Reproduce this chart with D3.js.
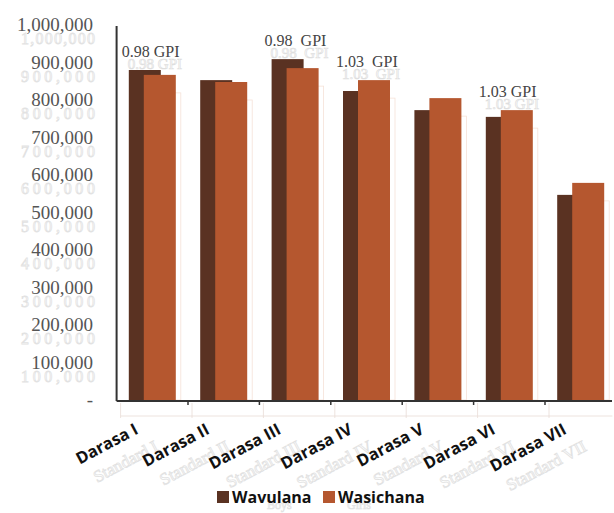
<!DOCTYPE html>
<html><head><meta charset="utf-8">
<script src="https://cdn.jsdelivr.net/npm/d3@7"></script>
<style>body{margin:0;background:#fff}svg{display:block}</style>
</head><body>
<script>
const categories = ["Darasa I","Darasa II","Darasa III","Darasa IV","Darasa V","Darasa VI","Darasa VII"];
const ghostCategories = ["Standard I","Standard II","Standard III","Standard IV","Standard V","Standard VI","Standard VII"];
const boys  = [880000, 853000, 909000, 824000, 773000, 755000, 547000];
const girls = [867000, 848000, 885000, 853000, 805000, 773000, 579000];
const gpiLabels = ["0.98 GPI", null, "0.98  GPI", "1.03  GPI", null, "1.03 GPI", null];
const yTicks = [0,100000,200000,300000,400000,500000,600000,700000,800000,900000,1000000];
const seriesNames = ["Wavulana","Wasichana"];
const ghostSeriesNames = ["Boys","Girls"];
const colors = ["#5a3222","#b5572f"];

const W=614,H=513;
const svg=d3.select("body").append("svg").attr("width",W).attr("height",H);
const x0=116.6, x1=616.4, yBase=400, yTop=25;
const x=d3.scaleBand().domain(categories).range([x0,x1]).padding(0);
const y=d3.scaleLinear().domain([0,1000000]).range([yBase,yTop]);
const bw=32, off=15;
const fmt=v=>v===0?"-":d3.format(",")(v);

// ghost y labels
svg.append("g").selectAll("text").data(yTicks.filter(d=>d>0)).join("text")
  .attr("x",95).attr("y",d=>y(d)+19).attr("text-anchor","end")
  .attr("font-family","Liberation Serif").attr("font-size",16).attr("textLength",74)
  .attr("fill","none").attr("stroke","#e2e2e2").attr("stroke-width",0.8)
  .text(d=>fmt(d));
// y labels
svg.append("g").selectAll("text").data(yTicks).join("text")
  .attr("x",93).attr("y",d=>y(d)+6).attr("text-anchor","end")
  .attr("font-family","Liberation Serif").attr("font-size",19).attr("fill","#555")
  .text(fmt);

// ghost axis frame below
const gg=svg.append("g").attr("stroke","#e8dcd6").attr("stroke-width",0.8).attr("fill","none");
gg.append("line").attr("x1",x0+4).attr("x2",x1-4).attr("y1",416).attr("y2",416);
gg.selectAll("line.v").data(categories).join("line").attr("class","v")
  .attr("x1",d=>x(d)+4).attr("x2",d=>x(d)+4).attr("y1",403).attr("y2",418);

// ghost bar outlines
const gb=svg.append("g").attr("fill","none").attr("stroke","#f6e2d8").attr("stroke-width",0.8);
categories.forEach((c,i)=>{
  const cx=x(c)+x.bandwidth()/2;
  gb.append("rect").attr("x",cx-bw/2-off/2+4).attr("y",y(boys[i])+18).attr("width",bw).attr("height",yBase-y(boys[i])-18);
  gb.append("rect").attr("x",cx-bw/2+off/2+5).attr("y",y(girls[i])+18).attr("width",bw).attr("height",yBase-y(girls[i])-18);
});

// bars
const g=svg.append("g");
g.selectAll("rect.b").data(categories).join("rect").attr("class","b")
  .attr("x",(d)=>x(d)+x.bandwidth()/2-bw/2-off/2).attr("width",bw)
  .attr("y",(d,i)=>y(boys[i])).attr("height",(d,i)=>yBase-y(boys[i])).attr("fill",colors[0]);
g.selectAll("rect.g").data(categories).join("rect").attr("class","g")
  .attr("x",(d)=>x(d)+x.bandwidth()/2-bw/2+off/2).attr("width",bw)
  .attr("y",(d,i)=>y(girls[i])).attr("height",(d,i)=>yBase-y(girls[i])).attr("fill",colors[1]);

// axes
svg.append("line").attr("x1",x0).attr("x2",x0).attr("y1",26).attr("y2",yBase+1).attr("stroke","#333").attr("stroke-width",2);
svg.append("line").attr("x1",x0).attr("x2",612).attr("y1",yBase+1).attr("y2",yBase+1).attr("stroke","#333").attr("stroke-width",2);
svg.append("g").selectAll("line").data(categories.slice(1)).join("line")
  .attr("x1",d=>x(d)).attr("x2",d=>x(d)).attr("y1",yBase+1).attr("y2",yBase+5).attr("stroke","#333").attr("stroke-width",1.5);

// GPI labels
const gpi=gpiLabels.map((t,i)=>({t,i})).filter(d=>d.t);
svg.append("g").selectAll("text").data(gpi).join("text")
  .attr("x",d=>x(categories[d.i])+x.bandwidth()/2-bw/2-off/2-1).attr("y",d=>y(Math.max(boys[d.i],girls[d.i]))-1)
  .attr("font-family","Liberation Serif").attr("font-size",15)
  .attr("fill","none").attr("stroke","#dedede").attr("stroke-width",0.7).attr("xml:space","preserve")
  .text(d=>d.t);
svg.append("g").selectAll("text").data(gpi).join("text")
  .attr("x",d=>x(categories[d.i])+x.bandwidth()/2-bw/2-off/2-7).attr("y",d=>y(Math.max(boys[d.i],girls[d.i]))-13)
  .attr("font-family","Liberation Serif").attr("font-size",16).attr("fill","#444").attr("xml:space","preserve")
  .text(d=>d.t);

// x labels
const xl=svg.append("g");
categories.forEach((c,i)=>{
  const cx=x(c)+x.bandwidth()/2;
  xl.append("text").attr("transform",`translate(${cx+7},${yBase+50}) rotate(-28)`)
    .attr("text-anchor","end").attr("font-family","Liberation Serif").attr("font-size",17)
    .attr("fill","none").attr("stroke","#e2e2e2").attr("stroke-width",0.8).text(ghostCategories[i]);
  xl.append("text").attr("transform",`translate(${cx-13},${yBase+33}) rotate(-28)`)
    .attr("text-anchor","end").attr("font-family","Open Sans").attr("font-weight","bold").attr("font-size",16.5)
    .attr("fill","#111").text(c);
});

// legend
const lg=svg.append("g");
const lx=[217,323];
const gx=[267,347];
seriesNames.forEach((s,i)=>{
  lg.append("text").attr("x",gx[i]).attr("y",509).attr("font-family","Liberation Serif")
    .attr("font-size",12).attr("fill","none").attr("stroke","#e2e2e2").attr("stroke-width",0.7).text(ghostSeriesNames[i]);
  lg.append("rect").attr("x",lx[i]).attr("y",491).attr("width",12).attr("height",12).attr("fill",colors[i]);
  lg.append("text").attr("x",lx[i]+15).attr("y",503).attr("font-family","Open Sans").attr("font-weight","bold")
    .attr("font-size",16).attr("fill","#111").text(s);
});
</script>
</body></html>
